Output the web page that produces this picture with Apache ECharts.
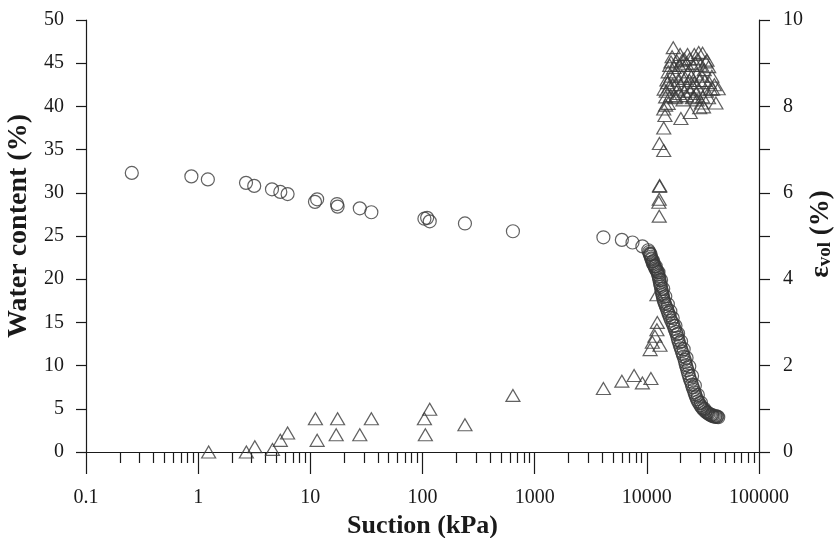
<!DOCTYPE html>
<html>
<head>
<meta charset="utf-8">
<script src="https://cdn.jsdelivr.net/npm/echarts@6/dist/echarts.min.js"></script>
<style>
  html, body { margin: 0; padding: 0; background: #fff; }
  #chart { width: 835px; height: 538px; }
</style>
</head>
<body>
<div id="chart"></div>
<script>
// Suction (kPa) and gravimetric water content (%) measured along the drying path
const waterContent = [
  [0.256, 32.3], [0.87, 31.9], [1.22, 31.55], [2.67, 31.15], [3.16, 30.8],
  [4.55, 30.4], [5.4, 30.1], [6.27, 29.85], [11.0, 28.95], [11.5, 29.25],
  [17.3, 28.7], [17.5, 28.4], [27.6, 28.2], [35, 27.75], [104, 27.0],
  [110, 27.1], [116, 26.7], [239, 26.45], [640, 25.55], [4100, 24.85],
  [5990, 24.55], [7450, 24.25], [9130, 23.8],
  [10300, 23.35], [10480, 23.15], [10600, 22.95], [10700, 22.8], [10857, 22.6],
  [10950, 22.4], [11050, 22.3], [11240, 22.05], [11300, 21.85], [11500, 21.7],
  [11650, 21.55], [11788, 21.45], [11900, 21.25], [12100, 21.1], [12300, 20.95],
  [12460, 20.85], [12600, 20.55], [12750, 20.35], [12880, 20.1], [12950, 19.9],
  [13100, 19.6], [13200, 19.35], [13335, 19.15], [13450, 18.85], [13600, 18.6],
  [13700, 18.35], [13810, 18.15], [13950, 17.9], [14100, 17.65], [14272, 17.4],
  [14500, 17.15], [14750, 16.9], [15088, 16.6], [15300, 16.35], [15550, 16.1],
  [15815, 15.85], [16100, 15.55], [16500, 15.2], [16965, 14.9], [17300, 14.6],
  [17700, 14.25], [18155, 13.9], [18500, 13.6], [18800, 13.25], [19030, 12.95],
  [19400, 12.65], [19700, 12.3], [20120, 12.0], [20500, 11.65], [20900, 11.35],
  [21270, 11.05], [21700, 10.7], [22000, 10.4], [22300, 10.05], [22700, 9.75],
  [23000, 9.45], [23380, 9.1], [23800, 8.8], [24200, 8.45], [24720, 8.15],
  [25200, 7.8], [25600, 7.5], [26120, 7.2], [26600, 6.9], [27000, 6.65],
  [27380, 6.4], [28000, 6.1], [28600, 5.85], [29310, 5.65], [30000, 5.4],
  [30700, 5.2], [31430, 5.05], [32300, 4.85], [33300, 4.7], [34340, 4.55],
  [35500, 4.42], [36400, 4.33], [37270, 4.27], [38400, 4.18], [39400, 4.12],
  [40470, 4.08], [41800, 4.05], [43320, 4.02], [42500, 4.1],
  [10800, 22.9], [11400, 22.1], [12000, 21.5], [12700, 20.8], [13400, 19.9],
  [14000, 18.9], [14600, 18.0], [15400, 17.1], [16200, 16.3], [17000, 15.5],
  [18000, 14.6], [19000, 13.7], [20200, 12.8], [21300, 11.9], [22600, 10.9],
  [23900, 9.9], [25300, 8.8], [26800, 7.7], [28500, 6.6], [30400, 5.7],
  [32500, 5.0], [35000, 4.55], [38000, 4.3], [41000, 4.15]
];

// Suction (kPa) and volumetric strain (%)
const volStrain = [
  [1.24, 0.0], [2.69, 0.0], [3.2, 0.12], [4.6, 0.06], [5.4, 0.27], [6.27, 0.44],
  [11.1, 0.77], [11.5, 0.27], [17.0, 0.4], [17.5, 0.77], [27.6, 0.4], [35, 0.77],
  [104, 0.77], [106, 0.4], [116, 0.99], [239, 0.63], [640, 1.31],
  [4100, 1.47], [5990, 1.64], [7700, 1.77], [9130, 1.6], [10870, 1.7],
  [10700, 2.37], [11200, 2.54], [11800, 2.68], [12300, 2.83], [12400, 3.0],
  [13100, 2.47], [12300, 3.64],
  [12900, 5.46], [12800, 5.78], [12900, 5.85], [13000, 6.15], [13000, 6.17],
  [14150, 6.98], [12950, 7.14], [14150, 7.5], [14500, 7.79], [14150, 7.94],
  [20120, 7.72], [24380, 7.86], [29600, 7.97], [30700, 8.08], [41300, 8.08],
  [43300, 8.41], [38600, 8.4],
  [17200, 9.36], [23060, 9.2], [31400, 9.23], [16420, 9.03], [20700, 9.07],
  [33500, 9.03], [34400, 9.07], [35600, 8.92], [15500, 8.8], [15100, 8.61],
  [14270, 8.4], [14700, 8.22], [18160, 8.22], [26300, 8.22], [31400, 8.22],
  [15500, 8.07], [14700, 8.03], [32000, 7.99],
  [16000, 8.95], [17500, 8.9], [18500, 9.05], [19500, 8.95], [21000, 8.95],
  [22500, 9.0], [24000, 9.1], [25500, 8.95], [27000, 9.0], [28500, 9.1],
  [30000, 8.95], [32500, 8.85],
  [16500, 8.7], [18000, 8.75], [19000, 8.6], [20500, 8.7], [22000, 8.65],
  [23500, 8.8], [25000, 8.7], [26500, 8.55], [28000, 8.75], [29500, 8.6],
  [31000, 8.7], [33000, 8.6], [36000, 8.55],
  [15800, 8.45], [17000, 8.5], [18800, 8.4], [20000, 8.5], [21500, 8.35],
  [23000, 8.45], [24500, 8.35], [26000, 8.45], [27500, 8.3], [29000, 8.4],
  [34000, 8.35], [37000, 8.4],
  [16300, 8.25], [17800, 8.2], [19500, 8.3], [21000, 8.15], [22500, 8.25],
  [25500, 8.2], [28000, 8.15], [35500, 8.2],
  [16800, 9.15], [19800, 9.2], [26500, 9.2], [29000, 9.25], [21500, 9.1],
  [15300, 8.55], [14900, 8.35], [24000, 8.6], [38000, 8.7], [40000, 8.5]
];

// Axis tick labels
const xTickLabels = ['0.1', '1', '10', '100', '1000', '10000', '100000'];
const xDecades = [-1, 0, 1, 2, 3, 4, 5];
const leftTickLabels = ['0', '5', '10', '15', '20', '25', '30', '35', '40', '45', '50'];
const rightTickLabels = ['0', '2', '4', '6', '8', '10'];

// Minor tick positions (2..9 in each decade), expressed in log10 units
const minorTicks = [];
for (let d = -1; d < 5; d++) {
  for (let k = 2; k <= 9; k++) minorTicks.push(d + Math.log10(k));
}

const FONT = 'Liberation Serif';
const INK = '#1a1a1a';
const MARK = '#3a3a3a';

const chart = echarts.init(document.getElementById('chart'), null, { renderer: 'canvas' });

chart.setOption({
  backgroundColor: '#ffffff',
  animation: false,
  grid: { left: 86, right: 76, top: 20, bottom: 86, containLabel: false, outerBoundsMode: 'none' },
  // right-hand axis title with the "vol" subscript
  graphic: [
    {
      type: 'text',
      x: 821,
      y: 234,
      rotation: Math.PI / 2,
      style: {
        text: '{e|ε}{s|vol}{e| (%)}',
        align: 'center',
        verticalAlign: 'middle',
        fill: INK,
        rich: {
          e: { fontFamily: FONT, fontSize: 27, fontWeight: 'bold', fill: INK, lineHeight: 28, verticalAlign: 'middle' },
          s: { fontFamily: FONT, fontSize: 19, fontWeight: 'bold', fill: INK, lineHeight: 28, verticalAlign: 'bottom', padding: [6, 0, 0, 0] }
        }
      }
    }
  ],
  xAxis: [
    {
      type: 'log',
      logBase: 10,
      min: 0.1,
      max: 100000,
      splitNumber: 6,
      name: 'Suction (kPa)',
      nameLocation: 'middle',
      nameGap: 60,
      nameTextStyle: { fontFamily: FONT, fontSize: 26, fontWeight: 'bold', color: INK },
      axisLine: { show: true, onZero: false, lineStyle: { color: INK, width: 1.2 } },
      axisTick: { show: true, inside: false, length: 22, lineStyle: { color: INK, width: 1.2 } },
      axisLabel: {
        margin: 36,
        fontFamily: FONT, fontSize: 20, color: INK,
        formatter: v => xTickLabels[xDecades.indexOf(Math.round(Math.log10(v)))]
      },
      splitLine: { show: false }
    },
    {
      // carries only the minor ticks of the log scale
      type: 'value',
      min: -1,
      max: 5,
      position: 'bottom',
      axisLine: { show: false, onZero: false },
      axisLabel: { show: false },
      splitLine: { show: false },
      axisTick: { show: true, length: 11, customValues: minorTicks, lineStyle: { color: INK, width: 1.2 } }
    }
  ],
  yAxis: [
    {
      type: 'value',
      min: 0,
      max: 50,
      interval: 5,
      position: 'left',
      name: 'Water content (%)',
      nameLocation: 'middle',
      nameGap: 43,
      nameTextStyle: { fontFamily: FONT, fontSize: 28, fontWeight: 'bold', color: INK, padding: [0, 0, 0, 20] },
      axisLine: { show: true, onZero: false, lineStyle: { color: INK, width: 1.2 } },
      axisTick: { show: true, length: 10, lineStyle: { color: INK, width: 1.2 } },
      axisLabel: {
        margin: 22, fontFamily: FONT, fontSize: 20, color: INK,
        formatter: v => leftTickLabels[Math.round(v / 5)]
      },
      splitLine: { show: false }
    },
    {
      type: 'value',
      min: 0,
      max: 10,
      interval: 1,
      position: 'right',
      axisLine: { show: true, onZero: false, lineStyle: { color: INK, width: 1.2 } },
      axisTick: { show: true, length: 11, lineStyle: { color: INK, width: 1.2 } },
      axisLabel: {
        margin: 24, fontFamily: FONT, fontSize: 20, color: INK,
        formatter: v => (v % 2 === 0 ? rightTickLabels[v / 2] : '')
      },
      splitLine: { show: false }
    }
  ],
  series: [
    {
      name: 'Water content',
      type: 'scatter',
      xAxisIndex: 0,
      yAxisIndex: 0,
      data: waterContent,
      symbol: 'circle',
      symbolSize: 13,
      itemStyle: { color: 'rgba(0,0,0,0)', borderColor: MARK, borderWidth: 1.2 }
    },
    {
      name: 'Volumetric strain',
      type: 'scatter',
      xAxisIndex: 0,
      yAxisIndex: 1,
      data: volStrain,
      symbol: 'triangle',
      symbolSize: [14, 12],
      itemStyle: { color: 'rgba(0,0,0,0)', borderColor: MARK, borderWidth: 1.2 }
    }
  ]
});
</script>
</body>
</html>
